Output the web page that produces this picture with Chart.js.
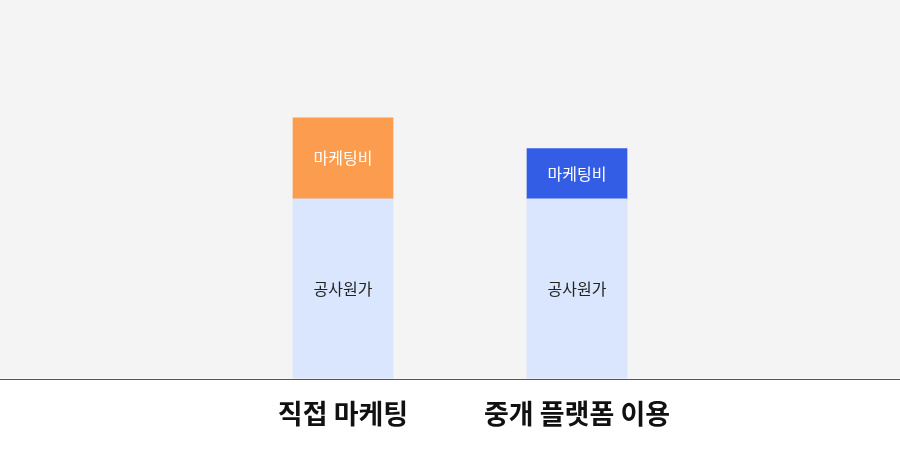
<!DOCTYPE html>
<html lang="ko">
<head>
<meta charset="utf-8">
<script src="https://cdn.jsdelivr.net/npm/chart.js@4"></script>
<style>
  html, body { margin: 0; padding: 0; background: #fff; }
  #wrap { width: 900px; height: 450px; }
</style>
</head>
<body>
<div id="wrap"><canvas id="chart"></canvas></div>
<script>
// data
const categories = ["직접 마케팅", "중개 플랫폼 이용"];
const seriesNames = ["공사원가", "마케팅비"];
const costValues = [100, 100];
const marketingValues = [45, 28];

const FONT = "'Noto Sans CJK KR', 'Noto Sans', sans-serif";

// grey plot background + full-width baseline
const backdrop = {
  id: "backdrop",
  beforeDraw(chart) {
    const { ctx, width, height, chartArea } = chart;
    ctx.save();
    ctx.fillStyle = "#ffffff";
    ctx.fillRect(0, 0, width, height);
    ctx.fillStyle = "#f4f4f4";
    ctx.fillRect(0, 0, width, chartArea.bottom);
    ctx.restore();
  },
  afterDatasetsDraw(chart) {
    const { ctx, width } = chart;
    const y = Math.round(chart.scales.y.getPixelForValue(0)) + 0.5;
    ctx.save();
    ctx.strokeStyle = "#555555";
    ctx.lineWidth = 1;
    ctx.beginPath();
    ctx.moveTo(0, y);
    ctx.lineTo(width, y);
    ctx.stroke();
    ctx.restore();
  }
};

// segment labels in the middle of each bar piece
const segLabels = {
  id: "segLabels",
  afterDatasetsDraw(chart) {
    const { ctx } = chart;
    ctx.save();
    ctx.font = "16px " + FONT;
    ctx.textAlign = "center";
    ctx.textBaseline = "middle";
    chart.data.datasets.forEach((ds, di) => {
      const meta = chart.getDatasetMeta(di);
      meta.data.forEach(bar => {
        ctx.fillStyle = di === 0 ? "#222222" : "#ffffff";
        ctx.fillText(ds.label, bar.x, (bar.y + bar.base) / 2);
      });
    });
    ctx.restore();
  }
};

new Chart(document.getElementById("chart"), {
  type: "bar",
  data: {
    labels: categories,
    datasets: [
      {
        label: seriesNames[0],
        data: costValues,
        backgroundColor: "#d9e6fd",
        barThickness: 100,
      },
      {
        label: seriesNames[1],
        data: marketingValues,
        backgroundColor: ["#fc9c4f", "#345de6"],
        barThickness: 100,
      },
    ],
  },
  options: {
    responsive: true,
    maintainAspectRatio: false,
    animation: false,
    layout: { padding: { left: 226, right: 206, top: 19, bottom: 9 } },
    plugins: {
      legend: { display: false },
      tooltip: { enabled: false },
    },
    scales: {
      x: {
        stacked: true,
        grid: { display: false },
        border: { display: false },
        ticks: {
          color: "#111111",
          padding: 11,
          font: { family: FONT, size: 27, weight: "bold" },
        },
      },
      y: {
        stacked: true,
        display: false,
        min: 0,
        max: 200,
      },
    },
  },
  plugins: [backdrop, segLabels],
});
</script>
</body>
</html>
